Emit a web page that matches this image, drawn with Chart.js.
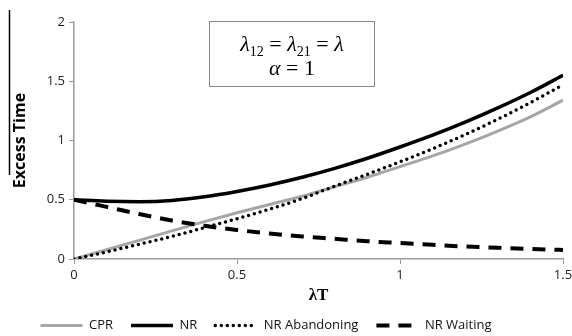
<!DOCTYPE html>
<html>
<head>
<meta charset="utf-8">
<script src="https://cdn.jsdelivr.net/npm/chart.js@4.4.1/dist/chart.umd.min.js"></script>
<style>
  html, body { margin: 0; padding: 0; background: #fff; overflow: hidden; }
  #wrap { width: 572px; height: 336px; }
</style>
</head>
<body>
<div id="wrap"><canvas id="excessChart" width="572" height="336"></canvas></div>
<script>
// λT values along the x axis
const lambdaT = [0, 0.1, 0.2, 0.3, 0.4, 0.5, 0.6, 0.7, 0.8, 0.9, 1.0, 1.1, 1.2, 1.3, 1.4, 1.5];

// excess time for each policy
const cprValues       = [0, 0.078, 0.157, 0.237, 0.315, 0.39, 0.46, 0.53, 0.61, 0.69, 0.78, 0.87, 0.97, 1.08, 1.2, 1.34];
const nrValues        = [0.5, 0.488, 0.484, 0.494, 0.525, 0.57, 0.625, 0.69, 0.765, 0.85, 0.945, 1.045, 1.155, 1.275, 1.405, 1.55];
const abandonValues   = [0, 0.06, 0.125, 0.19, 0.265, 0.34, 0.42, 0.51, 0.615, 0.715, 0.82, 0.93, 1.05, 1.18, 1.32, 1.47];
const waitingValues   = [0.5, 0.44, 0.38, 0.325, 0.28, 0.245, 0.215, 0.19, 0.17, 0.15, 0.135, 0.12, 0.105, 0.095, 0.085, 0.076];

const seriesLabels = ['CPR', 'NR', 'NR Abandoning', 'NR Waiting'];
const xTicks = [0, 0.5, 1, 1.5];
const yTicks = [0, 0.5, 1, 1.5, 2];

const toPoints = vals => vals.map((v, i) => ({ x: lambdaT[i], y: v }));

// annotation box with the parameter settings + the stray bar left of the y title
const annotationBox = {
    id: 'annotationBox',
    afterLayout(chart) {
        // legend sits a little left of centre in the original
        chart.legend.left -= 40;
    },
    afterDraw(chart) {
        const ctx = chart.ctx;
        ctx.save();

        ctx.strokeStyle = '#000';
        ctx.lineWidth = 1.5;
        ctx.beginPath();
        ctx.moveTo(9.5, 10);
        ctx.lineTo(9.5, 175);
        ctx.stroke();

        ctx.fillStyle = '#fff';
        ctx.fillRect(209.5, 21.5, 165, 65);
        ctx.strokeStyle = '#888';
        ctx.lineWidth = 1;
        ctx.strokeRect(209.5, 21.5, 165, 65);

        const italic = 'italic 22px "Liberation Serif", serif';
        const upright = '22px "Liberation Serif", serif';
        const sub = '14px "Liberation Serif", serif';
        const lines = [
            { base: 51, runs: [['λ', italic, 0], ['12', sub, 5], [' = ', upright, 0], ['λ', italic, 0], ['21', sub, 5], [' = ', upright, 0], ['λ', italic, 0]] },
            { base: 75, runs: [['α', italic, 0], [' = 1', upright, 0]] }
        ];
        const cx = 292;
        ctx.fillStyle = '#000';
        ctx.textBaseline = 'alphabetic';
        ctx.textAlign = 'left';
        lines.forEach(line => {
            let total = 0;
            line.runs.forEach(r => { ctx.font = r[1]; total += ctx.measureText(r[0]).width; });
            let x = cx - total / 2;
            line.runs.forEach(r => {
                ctx.font = r[1];
                ctx.fillText(r[0], x, line.base + r[2]);
                x += ctx.measureText(r[0]).width;
            });
        });
        ctx.restore();
    }
};

// legend entries drawn as short line samples with each series' dash
function legendItems(chart) {
    return chart.data.datasets.map((ds, i) => ({
        text: ds.label,
        datasetIndex: i,
        fillStyle: ds.borderColor,
        strokeStyle: ds.borderColor,
        fontColor: '#111',
        lineWidth: ds.borderWidth,
        lineDash: ds.borderDash || [],
        lineCap: ds.borderCapStyle || 'butt',
        pointStyle: 'line',
        hidden: false
    }));
}

const chart = new Chart(document.getElementById('excessChart'), {
    type: 'line',
    data: {
        datasets: [
            {
                label: seriesLabels[0],
                data: toPoints(cprValues),
                borderColor: '#a6a6a6',
                backgroundColor: '#a6a6a6',
                borderWidth: 3,
                pointRadius: 0,
                cubicInterpolationMode: 'monotone',
                order: 3
            },
            {
                label: seriesLabels[1],
                data: toPoints(nrValues),
                borderColor: '#000',
                backgroundColor: '#000',
                borderWidth: 3.5,
                pointRadius: 0,
                cubicInterpolationMode: 'monotone',
                order: 1
            },
            {
                label: seriesLabels[2],
                data: toPoints(abandonValues),
                borderColor: '#000',
                backgroundColor: '#000',
                borderWidth: 3.5,
                borderDash: [0, 6],
                borderCapStyle: 'round',
                pointRadius: 0,
                cubicInterpolationMode: 'monotone',
                order: 2
            },
            {
                label: seriesLabels[3],
                data: toPoints(waitingValues),
                borderColor: '#000',
                backgroundColor: '#000',
                borderWidth: 4,
                borderDash: [13, 9],
                pointRadius: 0,
                cubicInterpolationMode: 'monotone',
                order: 0
            }
        ]
    },
    options: {
        responsive: false,
        animation: false,
        events: [],
        layout: { padding: { top: 22, right: 0, bottom: -6, left: 0 } },
        plugins: {
            tooltip: { enabled: false },
            legend: {
                position: 'bottom',
                labels: {
                    usePointStyle: true,
                    pointStyle: 'line',
                    pointStyleWidth: 42,
                    padding: 18,
                    color: '#111',
                    font: { family: '"Open Sans", sans-serif', size: 13 },
                    generateLabels: legendItems
                }
            }
        },
        scales: {
            x: {
                type: 'linear',
                min: 0,
                max: 1.5,
                afterBuildTicks: axis => { axis.ticks = xTicks.map(v => ({ value: v })); },
                afterFit: axis => { axis.height = 42; axis.paddingLeft = 0; axis.paddingRight = 9; },
                grid: { drawOnChartArea: false, drawTicks: true, tickLength: 5, color: '#999' },
                border: { display: true, color: '#999', width: 1.5 },
                ticks: { padding: 3, color: '#222', font: { family: '"Open Sans", sans-serif', size: 13 }, callback: v => String(v) },
                title: {
                    display: true,
                    text: 'λT',
                    color: '#000',
                    padding: 0,
                    font: { family: '"Liberation Serif", serif', size: 17, weight: 'bold', lineHeight: 0.6 }
                }
            },
            y: {
                min: 0,
                max: 2,
                afterBuildTicks: axis => { axis.ticks = yTicks.map(v => ({ value: v })); },
                afterFit: axis => { axis.width = 74; },
                grid: { drawOnChartArea: false, drawTicks: true, tickLength: 5, color: '#999' },
                border: { display: true, color: '#999', width: 1.5 },
                ticks: { padding: 4, color: '#222', font: { family: '"Open Sans", sans-serif', size: 13 }, callback: v => String(v) },
                title: {
                    display: true,
                    text: 'Excess Time',
                    color: '#000',
                    padding: 0,
                    font: { family: '"Open Sans", sans-serif', size: 16, weight: 'bold', lineHeight: 2.6 }
                }
            }
        }
    },
    plugins: [annotationBox]
});
</script>
</body>
</html>
